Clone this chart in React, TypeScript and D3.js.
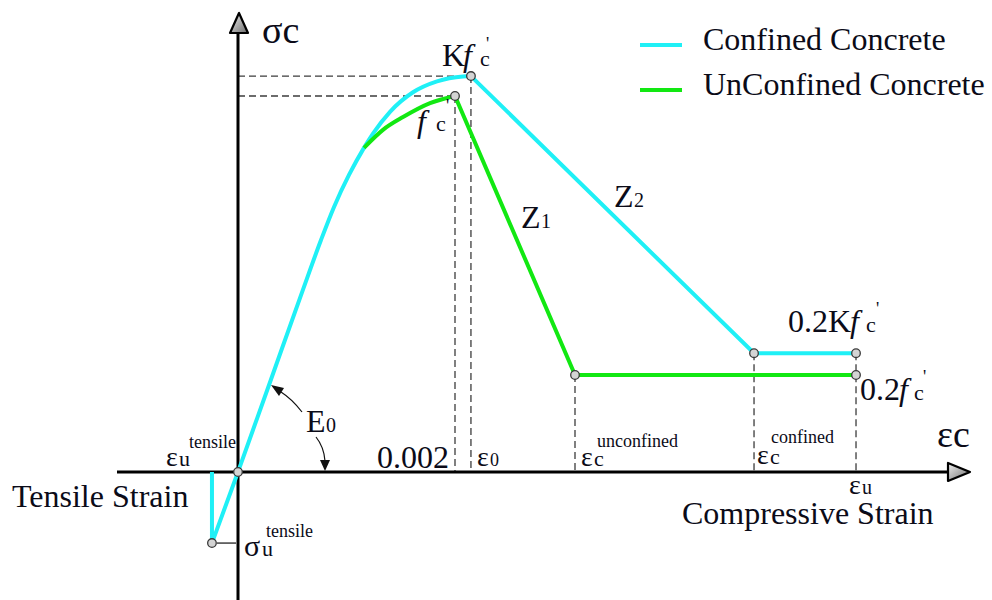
import React from "react";
import * as d3 from "d3";

// Strain in per-mille, stress normalised by f'c.
const confinedRiseStrain = [0, 0.304, 0.599, 0.765, 0.885, 1.023, 1.161, 1.244, 1.401, 1.613, 1.834, 2.074, 2.147];
const confinedRiseStress = [0, 0.246, 0.485, 0.617, 0.705, 0.79, 0.862, 0.9, 0.958, 1.01, 1.039, 1.052, 1.053];
const confinedSoftStrain = [2.147, 4.756, 5.696];
const confinedSoftStress = [1.053, 0.316, 0.316];

const unconfinedRiseStrain = [1.161, 1.336, 1.521, 1.77, 2.0];
const unconfinedRiseStress = [0.862, 0.91, 0.944, 0.981, 1.0];
const unconfinedSoftStrain = [2.0, 3.106, 5.696];
const unconfinedSoftStress = [1.0, 0.258, 0.258];

const tensileStrain = [-0.24, -0.24, 0];
const tensileStress = [0, -0.189, 0];

// Key points: [strain, stress]
const originPt: [number, number] = [0, 0];
const tensilePt: [number, number] = [-0.24, -0.189];
const confinedPeak: [number, number] = [2.147, 1.053];
const unconfinedPeak: [number, number] = [2.0, 1.0];
const unconfinedResidualStart: [number, number] = [3.106, 0.258];
const confinedResidualStart: [number, number] = [4.756, 0.316];
const confinedEnd: [number, number] = [5.696, 0.316];
const unconfinedEnd: [number, number] = [5.696, 0.258];

const legendItems = ["Confined Concrete", "UnConfined Concrete"];

const CYAN = "#1ff0f6";
const GREEN = "#12e812";
const INK = "#0b0b18";
const FONT = "'Liberation Serif', 'Times New Roman', serif";

const W = 992;
const H = 600;

const x = d3.scaleLinear().domain([0, 2]).range([238, 455]);
const y = d3.scaleLinear().domain([0, 1]).range([472, 96]);

const zip = (a: number[], b: number[]): [number, number][] => a.map((v, i) => [v, b[i]]);

const smooth = d3
  .line<[number, number]>()
  .x((d) => x(d[0]))
  .y((d) => y(d[1]))
  .curve(d3.curveMonotoneX);

const straight = d3
  .line<[number, number]>()
  .x((d) => x(d[0]))
  .y((d) => y(d[1]));

const Marker = ({ p }: { p: [number, number] }) => (
  <circle cx={x(p[0])} cy={y(p[1])} r={4.3} fill="#d4d4d4" stroke="#3a3a3a" strokeWidth={1.3} />
);

export default function App() {
  const x0 = x(0);
  const y0 = y(0);
  const dash = { stroke: "#3c3c3c", strokeWidth: 1.3, strokeDasharray: "7,4", fill: "none" };

  return (
    <svg
      width={W}
      height={H}
      viewBox={`0 0 ${W} ${H}`}
      style={{ position: "absolute", left: 0, top: 0, background: "#fff" }}
      fontFamily={FONT}
    >
      <defs>
        <linearGradient id="arrowFill" x1="0" y1="0" x2="1" y2="1">
          <stop offset="0" stopColor="#f2f2f2" />
          <stop offset="1" stopColor="#6a6a6a" />
        </linearGradient>
      </defs>
      <rect width={W} height={H} fill="#fff" />

      {/* reference dashed guides */}
      <line x1={x0} x2={x(confinedPeak[0])} y1={y(confinedPeak[1])} y2={y(confinedPeak[1])} {...dash} />
      <line x1={x0} x2={x(unconfinedPeak[0])} y1={y(unconfinedPeak[1])} y2={y(unconfinedPeak[1])} {...dash} />
      <line x1={x(unconfinedPeak[0])} x2={x(unconfinedPeak[0])} y1={y(unconfinedPeak[1])} y2={y0} {...dash} />
      <line x1={x(confinedPeak[0])} x2={x(confinedPeak[0])} y1={y(confinedPeak[1])} y2={y0} {...dash} />
      <line x1={x(unconfinedResidualStart[0])} x2={x(unconfinedResidualStart[0])} y1={y(unconfinedResidualStart[1])} y2={y0} {...dash} />
      <line x1={x(confinedResidualStart[0])} x2={x(confinedResidualStart[0])} y1={y(confinedResidualStart[1])} y2={y0} {...dash} />
      <line x1={x(confinedEnd[0])} x2={x(confinedEnd[0])} y1={y(confinedEnd[1])} y2={y0} {...dash} />

      {/* axes */}
      <line x1={117} x2={952} y1={y0} y2={y0} stroke="#000" strokeWidth={3} />
      <line x1={x0} x2={x0} y1={H} y2={30} stroke="#000" strokeWidth={3} />
      <path
        d={`M${x0 + 1},13 L${x0 - 8},33 L${x0 + 10},33 Z`}
        fill="url(#arrowFill)"
        stroke="#000"
        strokeWidth={2.2}
        strokeLinejoin="round"
      />
      <path
        d={`M970,${y0} L948,${y0 - 9} L948,${y0 + 9} Z`}
        fill="url(#arrowFill)"
        stroke="#000"
        strokeWidth={2.2}
        strokeLinejoin="round"
      />

      {/* tensile stress tick */}
      <line x1={x(tensilePt[0]) + 5} x2={x0 - 2} y1={y(tensilePt[1])} y2={y(tensilePt[1])} stroke="#222" strokeWidth={1.3} />

      {/* curves */}
      <path d={straight(zip(tensileStrain, tensileStress)) || ""} fill="none" stroke={CYAN} strokeWidth={4} />
      <path d={smooth(zip(confinedRiseStrain, confinedRiseStress)) || ""} fill="none" stroke={CYAN} strokeWidth={4} />
      <path d={straight(zip(confinedSoftStrain, confinedSoftStress)) || ""} fill="none" stroke={CYAN} strokeWidth={4} />
      <path d={smooth(zip(unconfinedRiseStrain, unconfinedRiseStress)) || ""} fill="none" stroke={GREEN} strokeWidth={4} />
      <path d={straight(zip(unconfinedSoftStrain, unconfinedSoftStress)) || ""} fill="none" stroke={GREEN} strokeWidth={4} />

      {/* E0 pointers */}
      <path d="M302,412 Q292,399 281,392" fill="none" stroke="#111" strokeWidth={1.2} />
      <path d="M271,385 L284,388 L279,396 Z" fill="#111" />
      <path d="M316,437 Q324,447 325,461" fill="none" stroke="#111" strokeWidth={1.2} />
      <path d="M325,471 L320,460 L330,460 Z" fill="#111" />

      {/* markers */}
      {[originPt, tensilePt, confinedPeak, unconfinedPeak, unconfinedResidualStart, confinedResidualStart, confinedEnd, unconfinedEnd].map(
        (p, i) => (
          <Marker key={i} p={p} />
        )
      )}

      {/* legend */}
      {legendItems.map((t, i) => (
        <g key={t}>
          <line x1={640} x2={682} y1={45 + i * 45} y2={45 + i * 45} stroke={i === 0 ? CYAN : GREEN} strokeWidth={4} />
          <text x={703} y={50 + i * 45} fontSize={32} fill={INK}>
            {t}
          </text>
        </g>
      ))}

      {/* axis titles */}
      <text x={262} y={43} fontSize={38} fill={INK}>
        σc
      </text>
      <text x={937} y={447} fontSize={38} fill={INK}>
        εc
      </text>
      <text x={12} y={507} fontSize={32} fill={INK}>
        Tensile Strain
      </text>
      <text x={682} y={524} fontSize={32} fill={INK}>
        Compressive Strain
      </text>

      {/* peak labels */}
      <g fill={INK}>
        <text x={442} y={66} fontSize={32}>K</text>
        <text x={463} y={66} fontSize={32} fontStyle="italic">f</text>
        <text x={480} y={66} fontSize={22}>c</text>
        <text x={486} y={50} fontSize={18}>'</text>

        <text x={417} y={132} fontSize={32} fontStyle="italic">f</text>
        <text x={436} y={131} fontSize={22}>c</text>
        <text x={446} y={112} fontSize={18}>'</text>

        <text x={788} y={332} fontSize={32}>0.2K</text>
        <text x={850} y={332} fontSize={32} fontStyle="italic">f</text>
        <text x={866} y={332} fontSize={22}>c</text>
        <text x={876} y={315} fontSize={18}>'</text>

        <text x={860} y={400} fontSize={32}>0.2</text>
        <text x={899} y={400} fontSize={32} fontStyle="italic">f</text>
        <text x={914} y={400} fontSize={22}>c</text>
        <text x={923} y={383} fontSize={18}>'</text>

        {/* slopes */}
        <text x={614} y={207} fontSize={32}>Z</text>
        <text x={634} y={207} fontSize={20}>2</text>
        <text x={521} y={228} fontSize={32}>Z</text>
        <text x={541} y={228} fontSize={20}>1</text>
        <text x={306} y={432} fontSize={32}>E</text>
        <text x={326} y={432} fontSize={20}>0</text>

        {/* strain markers on the axis */}
        <text x={377} y={468} fontSize={32}>0.002</text>
        <text x={477} y={466} fontSize={28}>ε</text>
        <text x={490} y={466} fontSize={18}>0</text>

        <text x={581} y={466} fontSize={28}>ε</text>
        <text x={594} y={466} fontSize={22}>c</text>
        <text x={597} y={447} fontSize={18}>unconfined</text>

        <text x={757} y={464} fontSize={28}>ε</text>
        <text x={770} y={464} fontSize={22}>c</text>
        <text x={771} y={443} fontSize={18}>confined</text>

        <text x={849} y={494} fontSize={28}>ε</text>
        <text x={862} y={494} fontSize={20}>u</text>

        <text x={166} y={466} fontSize={28}>ε</text>
        <text x={179} y={466} fontSize={22}>u</text>
        <text x={189} y={448} fontSize={18}>tensile</text>

        <text x={244} y={556} fontSize={30}>σ</text>
        <text x={262} y={556} fontSize={22}>u</text>
        <text x={266} y={537} fontSize={18}>tensile</text>
      </g>
    </svg>
  );
}
